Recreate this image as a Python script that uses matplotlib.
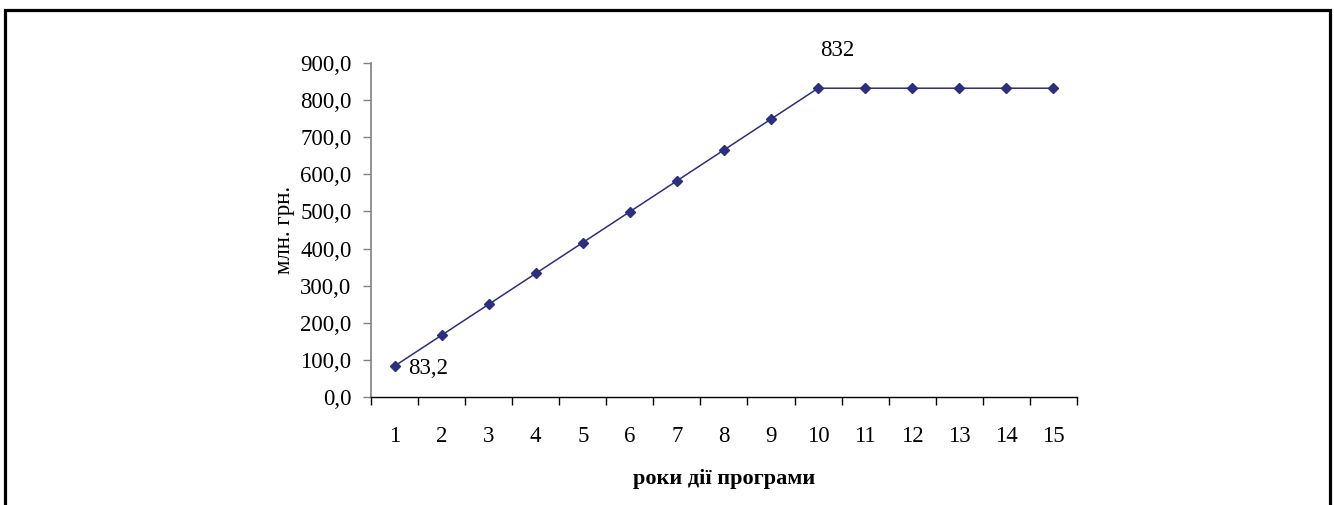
import matplotlib
matplotlib.use('Agg')
import matplotlib.pyplot as plt
from matplotlib.patches import Rectangle
from matplotlib.ticker import FixedLocator, FuncFormatter

years = list(range(1, 16))
values = [83.2, 166.4, 249.6, 332.8, 416.0, 499.2, 582.4, 665.6, 748.8, 832.0,
          832.0, 832.0, 832.0, 832.0, 832.0]
y_ticks = [0, 100, 200, 300, 400, 500, 600, 700, 800, 900]
first_label = "83,2"
peak_label = "832"

plt.rcParams['font.family'] = ['Liberation Serif', 'DejaVu Serif']
FS = 16.5
LINE_COLOR = '#2b2f7c'

fig = plt.figure(figsize=(13.34, 5.05), dpi=100)
ax = fig.add_axes([0.2781, 0.2139, 0.5292, 0.6614])

ax.plot(years, values, color=LINE_COLOR, lw=1.1, marker='D', ms=5.5,
        markeredgecolor=LINE_COLOR, markerfacecolor=LINE_COLOR, zorder=3)

ax.set_xlim(0.5, 15.5)
ax.set_ylim(0, 900)

# category labels in the middle, tick marks on the boundaries
ax.set_xticks(years)
ax.set_xticklabels([str(y) for y in years], fontsize=FS)
ax.xaxis.set_minor_locator(FixedLocator([y + 0.5 for y in [0] + years]))
ax.tick_params(axis='x', which='major', length=0, pad=21)
ax.tick_params(axis='x', which='minor', length=6, width=1, direction='out', color='black')

ax.set_yticks(y_ticks)
ax.yaxis.set_major_formatter(FuncFormatter(lambda v, p: f"{v:.1f}".replace('.', ',')))
ax.tick_params(axis='y', length=6, width=1, direction='out', color='#808080', labelsize=FS, pad=8)

for side in ['top', 'right']:
    ax.spines[side].set_visible(False)
ax.spines['left'].set_color('#808080')
ax.spines['left'].set_linewidth(1.2)
ax.spines['bottom'].set_color('black')
ax.spines['bottom'].set_linewidth(1.0)

ax.set_ylabel("млн. грн.", fontsize=FS, labelpad=4)
ax.set_xlabel("роки дії програми", fontsize=16, fontweight='bold', labelpad=15.5)

ax.annotate(first_label, (years[0], values[0]), xytext=(10, -1.5), textcoords='offset points',
            fontsize=FS, ha='left', va='center')
ax.annotate(peak_label, (years[9], values[9]), xytext=(14, 27), textcoords='offset points',
            fontsize=FS, ha='center', va='center')

# frame around the whole figure (bottom edge falls outside)
fig.patches.append(Rectangle((0.0035, -0.05), 0.9935, 1.03, transform=fig.transFigure,
                             fill=False, edgecolor='black', linewidth=2.3))

fig.savefig('out.png', dpi=100)
